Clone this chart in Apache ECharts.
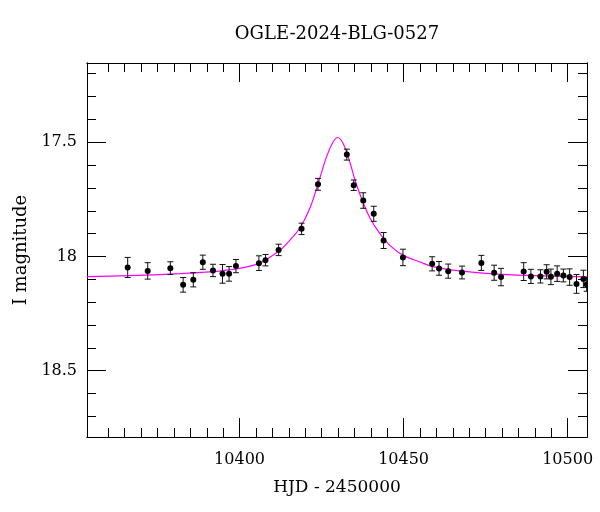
<!DOCTYPE html>
<html>
<head>
<meta charset="utf-8">
<script src="https://cdn.jsdelivr.net/npm/echarts@6/dist/echarts.min.js"></script>
<style>html,body{margin:0;padding:0;background:#fff}#c{width:600px;height:512px}</style>
</head>
<body>
<div id="c"></div>
<script>
// ---- data ----
var titleText = 'OGLE-2024-BLG-0527';
var xName = 'HJD - 2450000';
var yName = 'I magnitude';

var obsDays = [10365.9,10372.0,10378.9,10382.8,10385.9,10388.8,10391.9,10394.8,10396.8,10398.9,
               10405.9,10407.9,10411.9,10418.9,10423.9,10432.7,10434.8,10437.7,10440.9,10443.9,
               10449.8,10458.7,10460.8,10463.6,10467.8,10473.7,10477.6,10479.7,10486.6,10488.8,
               10491.7,10493.6,10494.9,10496.8,10498.7,10500.6,10502.7,10504.8,10505.8];
var obsMags = [18.048,18.063,18.051,18.124,18.102,18.025,18.061,18.076,18.076,18.042,
               18.029,18.016,17.971,17.879,17.684,17.554,17.688,17.755,17.813,17.930,
               18.004,18.032,18.052,18.064,18.070,18.028,18.071,18.090,18.066,18.087,
               18.087,18.067,18.089,18.075,18.083,18.090,18.120,18.098,18.122];
var obsErrs = [0.044,0.036,0.028,0.032,0.031,0.031,0.027,0.041,0.032,0.029,
               0.032,0.025,0.025,0.025,0.026,0.024,0.023,0.034,0.033,0.035,
               0.036,0.031,0.030,0.031,0.028,0.033,0.033,0.038,0.039,0.031,
               0.029,0.031,0.034,0.034,0.028,0.036,0.041,0.038,0.030];

var modelDays = [10353.5,10366,10382,10392,10397,10400,10406,10412.3,10415.3,10418.4,
                 10421.4,10423.9,10426.5,10428.5,10429.9,10431.6,10433.6,10435.2,10437.2,10439.7,
                 10442.8,10445.8,10449.9,10455,10459,10467.2,10479.8,10493.6,10506];
var modelMags = [18.088,18.084,18.075,18.066,18.058,18.052,18.030,17.973,17.929,17.875,
                 17.790,17.683,17.564,17.499,17.479,17.506,17.586,17.666,17.747,17.830,
                 17.900,17.951,17.995,18.024,18.044,18.063,18.078,18.085,18.089];

var xMajor = [10400,10450,10500];
var xMinor = [10360,10365,10370,10375,10380,10385,10390,10395,10405,10410,10415,10420,10425,10430,10435,10440,10445,10455,10460,10465,10470,10475,10480,10485,10490,10495];
var yMajor = [17.5,18,18.5];
var yMinor = [17.2,17.3,17.4,17.6,17.7,17.8,17.9,18.1,18.2,18.3,18.4,18.6,18.7];
var xMin = 10353.5, xMax = 10505.9;
var yMin = 17.153, yMax = 18.79;

// ---- chart ----
var FONT = 'DejaVu Serif';
var chart = echarts.init(document.getElementById('c'), null, {renderer:'canvas'});
function plain(v){ return String(v); }

function xAx(pos, ticks, len, labels, extra) {
  var o = {
    type:'value', position:pos, min:xMin, max:xMax,
    axisLine:{show:true, onZero:false, lineStyle:{color:'#000', width:1}},
    axisTick:{show:true, inside:true, length:len, customValues:ticks, lineStyle:{color:'#000', width:1}},
    axisLabel:{show:labels, customValues:ticks, formatter:plain, color:'#000', fontFamily:FONT, fontSize:16, margin:15},
    splitLine:{show:false}
  };
  return Object.assign(o, extra || {});
}
function yAx(pos, ticks, len, labels, extra) {
  var o = {
    type:'value', position:pos, min:yMin, max:yMax, inverse:true,
    axisLine:{show:true, onZero:false, lineStyle:{color:'#000', width:1}},
    axisTick:{show:true, inside:true, length:len, customValues:ticks, lineStyle:{color:'#000', width:1}},
    axisLabel:{show:labels, customValues:ticks, formatter:plain, color:'#000', fontFamily:FONT, fontSize:16, margin:10},
    splitLine:{show:false}
  };
  return Object.assign(o, extra || {});
}

var pts = obsDays.map(function(d,i){ return [d, obsMags[i], obsErrs[i]]; });
var model = modelDays.map(function(d,i){ return [d, modelMags[i]]; });

chart.setOption({
  animation:false,
  backgroundColor:'#fff',
  grid:{left:87, top:63, width:500, height:374, containLabel:false},
  graphic:[{type:'text', x:337, y:34, style:{text:titleText, fill:'#000', font:'18px "DejaVu Serif"', textAlign:'center', textVerticalAlign:'middle'}}],
  xAxis:[
    xAx('bottom', xMajor, 19, true, {name:xName, nameLocation:'middle', nameGap:42, nameTextStyle:{color:'#000', fontFamily:FONT, fontSize:17}}),
    xAx('bottom', xMinor, 9, false),
    xAx('top', xMajor, 19, false),
    xAx('top', xMinor, 9, false)
  ],
  yAxis:[
    yAx('left', yMajor, 19, true, {name:yName, nameLocation:'middle', nameGap:57, nameTextStyle:{color:'#000', fontFamily:FONT, fontSize:18}}),
    yAx('left', yMinor, 9, false),
    yAx('right', yMajor, 19, false),
    yAx('right', yMinor, 9, false)
  ],
  series:[
    {type:'line', data:model, xAxisIndex:0, yAxisIndex:0, showSymbol:false, smooth:0.35,
     lineStyle:{color:'#ff00ff', width:1.2}, z:2, clip:true},
    {type:'custom', data:pts, xAxisIndex:0, yAxisIndex:0, z:3,
     renderItem:function(params, api){
       var x = api.value(0), y = api.value(1), e = api.value(2);
       var c = api.coord([x, y]);
       var lo = api.coord([x, y - e]);
       var hi = api.coord([x, y + e]);
       var w = 3;
       var cs = params.coordSys;
       var ls = {stroke:'#111', lineWidth:1};
       return {
         type:'group',
         clipPath:{type:'rect', shape:{x:cs.x, y:cs.y, width:cs.width, height:cs.height}},
         children:[
           {type:'line', shape:{x1:c[0], y1:lo[1], x2:c[0], y2:hi[1]}, style:ls},
           {type:'line', shape:{x1:c[0]-w, y1:lo[1], x2:c[0]+w, y2:lo[1]}, style:ls},
           {type:'line', shape:{x1:c[0]-w, y1:hi[1], x2:c[0]+w, y2:hi[1]}, style:ls},
           {type:'circle', shape:{cx:c[0], cy:c[1], r:3}, style:{fill:'#000'}}
         ]
       };
     }}
  ]
});
</script>
</body>
</html>
